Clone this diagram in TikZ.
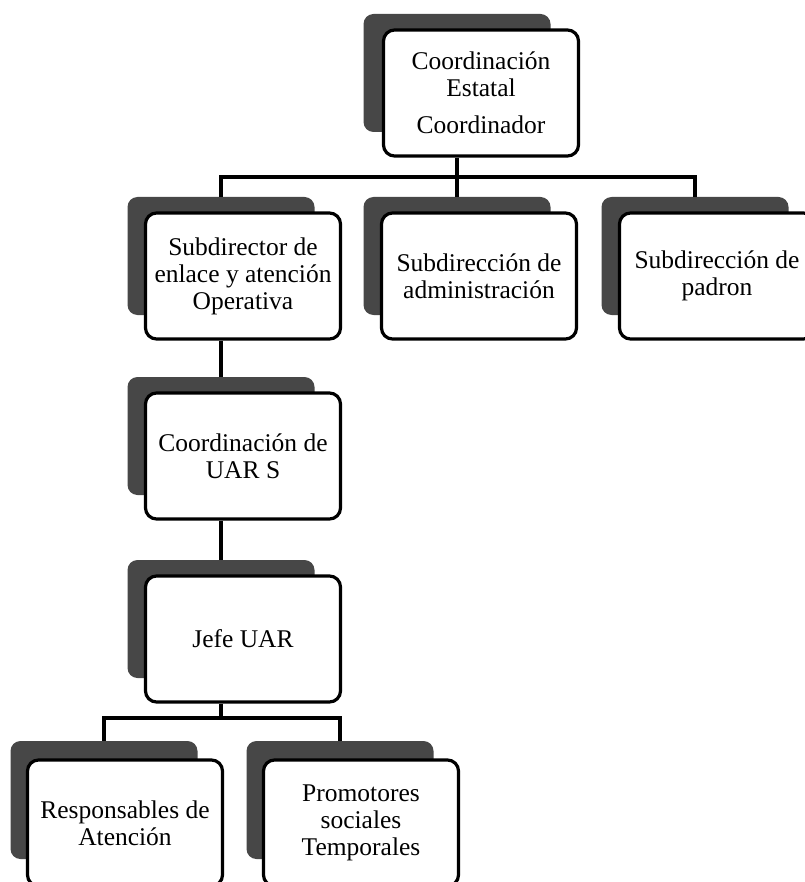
\documentclass[tikz,border=0pt]{standalone}
\usepackage{fontspec}
\setmainfont{Liberation Serif}
\usetikzlibrary{positioning, calc}

\begin{document}
\begin{tikzpicture}[x=1pt, y=-1pt,
    back_box/.style={rounded corners=10pt, fill=black!72, minimum width=187pt, minimum height=118pt, inner sep=0pt},
    unit_box/.style={draw=black, line width=3.2pt, rounded corners=11pt, fill=white, minimum width=195pt, minimum height=126pt, inner sep=2pt, align=center, font=\fontsize{25.5}{27}\selectfont},
    link/.style={line width=3.6pt, draw=black}
]
    \useasboundingbox (0,0) rectangle (804,882);

    % Coordinación estatal (top)
    \node[back_box] (coord_b) at (457,73) {};
    \node[unit_box] (coord) at ([shift={(24,20)}]coord_b.center) {Coordinación\\Estatal\\[10pt]Coordinador};

    % Subdirecciones (second row)
    \node[back_box] (enlace_b) at (221,256) {};
    \node[unit_box] (enlace) at ([shift={(22,20)}]enlace_b.center) {Subdirector de\\enlace y atención\\Operativa};
    \node[back_box] (admin_b) at (457,256) {};
    \node[unit_box] (admin) at ([shift={(22,20)}]admin_b.center) {Subdirección de\\administración};
    \node[back_box] (padron_b) at (695,256) {};
    \node[unit_box] (padron) at ([shift={(22,20)}]padron_b.center) {Subdirección de\\padron};

    % Coordinación de UAR S and Jefe UAR
    \node[back_box] (uars_b) at (221,436) {};
    \node[unit_box] (uars) at ([shift={(22,20)}]uars_b.center) {Coordinación de\\UAR S};
    \node[back_box] (jefe_b) at (221,619) {};
    \node[unit_box] (jefe) at ([shift={(22,20)}]jefe_b.center) {Jefe UAR};

    % Bottom row
    \node[back_box] (resp_b) at (104,800) {};
    \node[unit_box] (resp) at ([shift={(21,23)}]resp_b.center) {Responsables de\\Atención};
    \node[back_box] (prom_b) at (340,800) {};
    \node[unit_box] (prom) at ([shift={(21,23)}]prom_b.center) {Promotores\\sociales\\Temporales};

    % Upper bus
    \coordinate (bus_top) at (0,177);
    \draw[link] (coord_b |- coord.south) -- (admin_b.north);
    \draw[link] (enlace_b.north) |- (bus_top -| padron_b) -- (padron_b.north);

    % Vertical chain
    \draw[link] (enlace_b |- enlace.south) -- (uars_b.north);
    \draw[link] (uars_b |- uars.south) -- (jefe_b.north);

    % Lower bus
    \coordinate (bus_low) at (0,718);
    \draw[link] (jefe_b |- jefe.south) -- (jefe_b |- bus_low);
    \draw[link] (resp_b.north) |- (bus_low -| prom_b) -- (prom_b.north);

\end{tikzpicture}
\end{document}
